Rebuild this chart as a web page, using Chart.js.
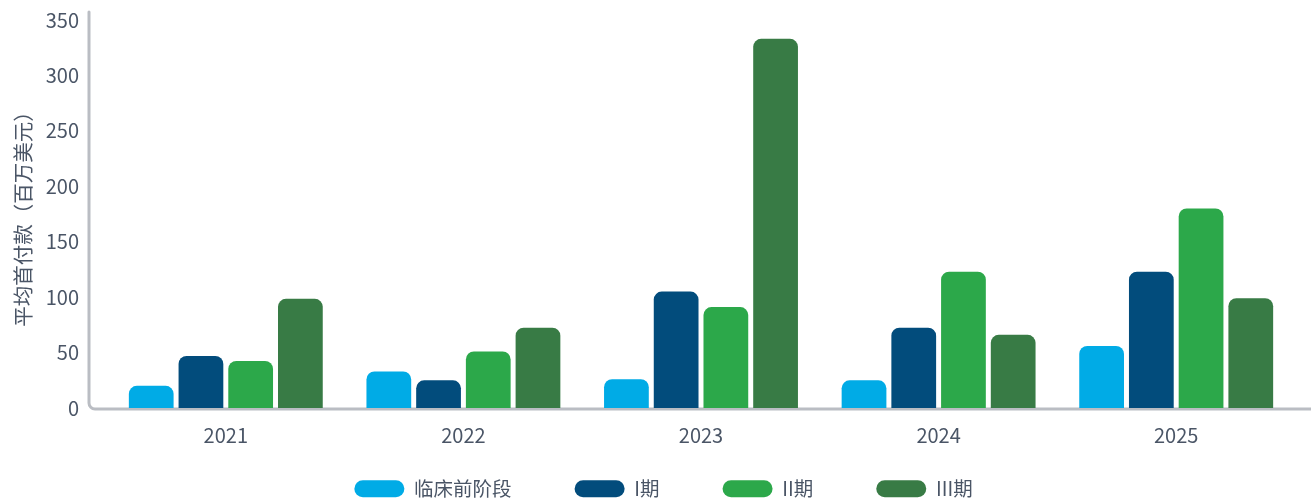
<!DOCTYPE html>
<html>
<head>
<meta charset="utf-8">
<style>
  html, body { margin: 0; padding: 0; background: #ffffff; }
  #wrap { width: 1311px; height: 499px; position: relative; }
</style>
<script src="https://cdn.jsdelivr.net/npm/chart.js@4/dist/chart.umd.min.js"></script>
</head>
<body>
<div id="wrap"><canvas id="chart" width="1311" height="499"></canvas></div>
<script>
// Average upfront payment by development phase (USD millions)
const years = ['2021', '2022', '2023', '2024', '2025'];
const seriesNames = ['临床前阶段', 'I期', 'II期', 'III期'];
const preclinical = [20, 33, 26, 25, 56];
const phase1 = [47, 25, 105, 72.5, 123];
const phase2 = [42.5, 51, 91, 123, 180];
const phase3 = [98.5, 72.5, 333, 66, 99];
const yTicks = [0, 50, 100, 150, 200, 250, 300, 350];
const yTitle = '平均首付款（百万美元）';

const colors = ['#00abe6', '#024c7c', '#2ca84a', '#387b45'];
const textColor = '#4a5566';
const axisColor = '#babdc3';
const fontFamily = "'Noto Sans CJK SC', 'Noto Sans', sans-serif";

const seriesValues = [preclinical, phase1, phase2, phase3];

// Legend: wide gaps between items, compact box, items near the bottom edge
const legendTweaks = {
  id: 'legendTweaks',
  afterInit(chart) {
    const legend = chart.legend;
    if (!legend) return;
    const fit = legend.fit;
    legend.fit = function () {
      fit.call(this);
      if (this.isHorizontal()) this.height = 49;
    };
    const draw = legend.draw;
    legend.draw = function () {
      const ctx = this.ctx;
      const pad = this.options.labels.padding;
      const top = this.top;
      // rows start at top + padding; lift the box so the row lands 20px above the bottom
      this.top = (this.bottom - 20) - pad;
      ctx.save();
      ctx.translate(16, 0);
      draw.call(this);
      ctx.restore();
      this.top = top;
    };
  }
};

// Rounded L-shaped axis frame drawn under the bars
const axisFrame = {
  id: 'axisFrame',
  beforeDatasetsDraw(chart) {
    const { ctx, chartArea } = chart;
    const x = chartArea.left - 18;
    const y = chartArea.bottom + 1;
    const r = 6;
    ctx.save();
    ctx.strokeStyle = axisColor;
    ctx.lineWidth = 3;
    ctx.lineCap = 'round';
    ctx.beginPath();
    ctx.moveTo(x, chartArea.top - 8);
    ctx.lineTo(x, y - r);
    ctx.arcTo(x, y, x + r, y, r);
    ctx.lineTo(chart.width, y);
    ctx.stroke();
    ctx.restore();
  }
};

new Chart(document.getElementById('chart'), {
  type: 'bar',
  data: {
    labels: years,
    datasets: seriesNames.map((name, i) => ({
      label: name,
      data: seriesValues[i],
      backgroundColor: colors[i],
      borderWidth: 0,
      borderRadius: 8,
      borderSkipped: 'bottom',
      barPercentage: 0.9,
      categoryPercentage: 0.837
    }))
  },
  options: {
    responsive: false,
    animation: false,
    layout: { autoPadding: false, padding: { top: 20, right: 16, left: 0, bottom: 0 } },
    plugins: {
      tooltip: { enabled: false },
      legend: {
        position: 'bottom',
        labels: {
          boxWidth: 50,
          boxHeight: 17,
          useBorderRadius: true,
          borderRadius: 8.5,
          padding: 63,
          color: textColor,
          font: { family: fontFamily, size: 19.5 }
        }
      }
    },
    scales: {
      x: {
        grid: { display: false, drawTicks: false },
        border: { display: false },
        ticks: {
          color: textColor,
          padding: 15,
          font: { family: fontFamily, size: 20 }
        },
        afterFit(scale) { scale.height = 42; }
      },
      y: {
        min: 0,
        max: 350,
        afterBuildTicks(scale) { scale.ticks = yTicks.map(v => ({ value: v })); },
        grid: { display: false, drawTicks: false },
        border: { display: false },
        ticks: {
          color: textColor,
          padding: 28,
          font: { family: fontFamily, size: 20 }
        },
        title: {
          display: true,
          text: yTitle,
          color: textColor,
          padding: { top: 11, bottom: 0 },
          font: { family: fontFamily, size: 20.5, lineHeight: 1.2 }
        },
        afterFit(scale) {
          scale.width = 107;
          scale.paddingTop = 0;
          scale.paddingBottom = 0;
        }
      }
    }
  },
  plugins: [legendTweaks, axisFrame]
});
</script>
</body>
</html>
